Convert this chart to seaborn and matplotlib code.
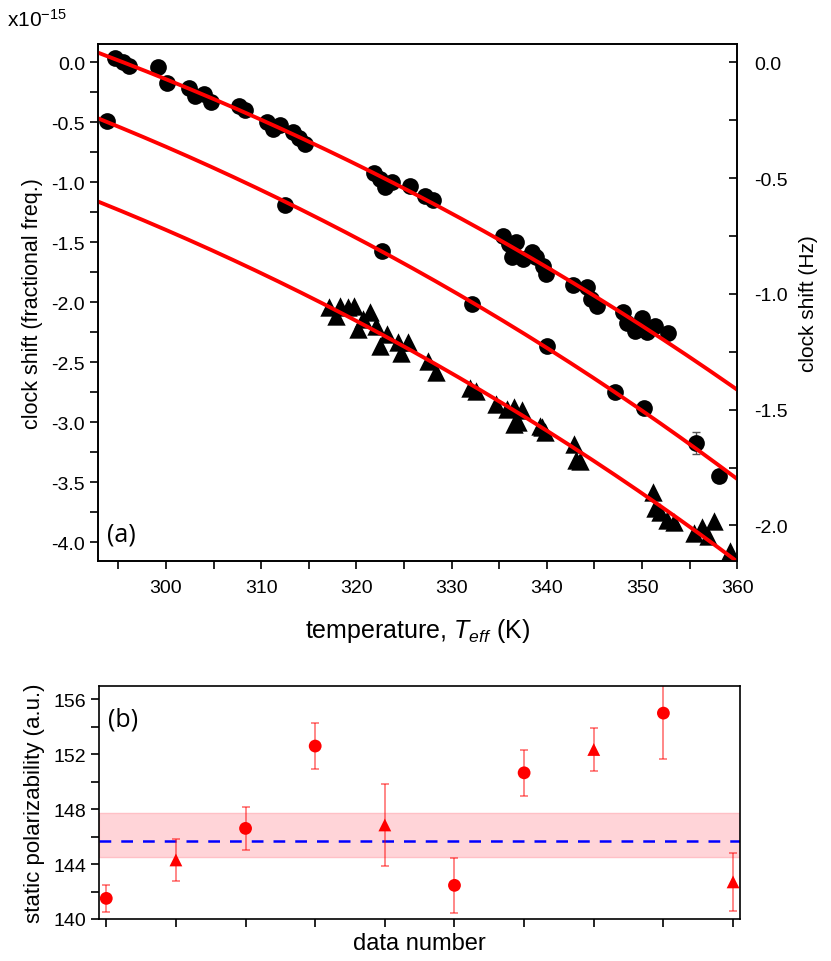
import numpy as np
import pandas as pd
import seaborn as sns
import matplotlib
matplotlib.use("Agg")
from matplotlib import pyplot as plt
from matplotlib.ticker import MultipleLocator, NullFormatter, FormatStrFormatter

# ---- panel (a): clock shift vs effective temperature (units of 1e-15) ----
top_T = [294.7, 295.5, 296.1, 299.2, 300.1, 302.4, 303.1, 304.0, 304.7, 307.7,
         308.3, 310.6, 311.2, 312.0, 313.3, 314.0, 314.6, 321.9, 322.5, 323.0,
         323.7, 325.6, 327.2, 328.0, 335.4, 336.0, 336.3, 336.8, 337.5, 338.4,
         338.9, 339.6, 339.9, 342.7, 344.2, 344.6, 345.3, 348.0, 348.4, 349.3,
         350.0, 350.5, 351.4, 352.7]
top_shift = [0.04, 0.00, -0.03, -0.04, -0.175, -0.21, -0.28, -0.26, -0.33, -0.36,
             -0.40, -0.50, -0.555, -0.52, -0.58, -0.63, -0.68, -0.92, -0.97, -1.04,
             -1.00, -1.03, -1.11, -1.15, -1.445, -1.51, -1.625, -1.50, -1.64, -1.58,
             -1.625, -1.695, -1.76, -1.855, -1.875, -1.97, -2.03, -2.08, -2.17, -2.24,
             -2.13, -2.25, -2.195, -2.256]

mid_T = [293.8, 312.5, 322.65, 332.1, 340.05, 347.2, 350.2, 355.7, 358.1]
mid_shift = [-0.487, -1.19, -1.57, -2.01, -2.36, -2.745, -2.88, -3.17, -3.445]
mid_err = [0.03, 0.03, 0.03, 0.03, 0.03, 0.03, 0.04, 0.09, 0.05]

low_T = [317.15, 317.9, 318.3, 319.1, 319.8, 320.2, 320.7, 321.4, 322.1, 322.5,
         323.2, 324.4, 324.7, 325.4, 327.5, 328.4, 331.9, 332.6, 334.7, 335.8,
         336.6, 336.6, 337.0, 337.35, 339.3, 339.45, 339.8, 342.8, 343.1, 343.5,
         351.1, 351.35, 351.9, 352.6, 353.3, 355.4, 356.3, 356.95, 357.5, 359.2]
low_shift = [-2.04, -2.11, -2.03, -2.04, -2.03, -2.22, -2.14, -2.08, -2.195, -2.36,
             -2.26, -2.33, -2.42, -2.33, -2.49, -2.58, -2.71, -2.74, -2.85, -2.89,
             -2.875, -3.01, -3.00, -2.90, -3.03, -3.04, -3.08, -3.18, -3.31, -3.32,
             -3.58, -3.71, -3.75, -3.81, -3.83, -3.92, -3.875, -3.945, -3.82, -4.07]

nu_clock = 0.5183  # Hz per 1e-15 (Yb clock, 518 THz)

# ---- panel (b): static polarizability per data set ----
data_num = list(range(1, 11))
alpha = [141.5, 144.3, 146.6, 152.6, 146.85, 142.45, 150.65, 152.35, 155.0, 142.7]
alpha_err = [0.96, 1.53, 1.58, 1.67, 2.98, 2.0, 1.68, 1.6, 3.37, 2.1]
set_kind = ["circle", "triangle", "circle", "circle", "triangle",
            "circle", "circle", "triangle", "circle", "triangle"]
alpha_mean = 145.7
band_lo, band_hi = 144.49, 147.73

sns.set_style("ticks")
plt.rcParams["font.family"] = ["Liberation Sans", "DejaVu Sans"]
plt.rcParams["axes.linewidth"] = 1.2
plt.rcParams["text.color"] = "black"
plt.rcParams["axes.labelcolor"] = "black"
plt.rcParams["xtick.color"] = "black"
plt.rcParams["ytick.color"] = "black"
plt.rcParams["axes.edgecolor"] = "black"
plt.rcParams["mathtext.fontset"] = "custom"
plt.rcParams["mathtext.it"] = "Liberation Sans:italic"
plt.rcParams["mathtext.rm"] = "Liberation Sans"

fig = plt.figure(figsize=(8.31, 9.62), dpi=100)
ax = fig.add_axes([0.1183, 0.4158, 0.7690, 0.5374])
bx = fig.add_axes([0.1195, 0.0437, 0.7710, 0.2425])

# fit lines: shift linear in T^4
T_grid = np.linspace(292.9, 360, 200)
for T, y in [(top_T, top_shift), (mid_T, mid_shift), (low_T, low_shift)]:
    t4 = (np.asarray(T) / 300.0) ** 4
    p = np.polyfit(t4, y, 1)
    fit = pd.DataFrame({"T": T_grid, "y": np.polyval(p, (T_grid / 300.0) ** 4)})
    sns.lineplot(data=fit, x="T", y="y", ax=ax, color="#ff0000", lw=2.8, zorder=3)

ax.errorbar(mid_T, mid_shift, yerr=mid_err, fmt="none", ecolor="#555555",
            elinewidth=1, capsize=3, zorder=1)
sns.scatterplot(x=top_T, y=top_shift, ax=ax, color="black", s=145, marker="o",
                linewidth=0, zorder=2)
sns.scatterplot(x=mid_T, y=mid_shift, ax=ax, color="black", s=145, marker="o",
                linewidth=0, zorder=2)
sns.scatterplot(x=low_T, y=low_shift, ax=ax, color="black", s=175, marker="^",
                linewidth=0, zorder=2)

ax.set_xlim(292.9, 360)
ax.set_ylim(-4.155, 0.153)
ax.xaxis.set_major_locator(MultipleLocator(10))
ax.xaxis.set_minor_locator(MultipleLocator(5))
ax.yaxis.set_major_locator(MultipleLocator(0.5))
ax.yaxis.set_minor_locator(MultipleLocator(0.25))
ax.yaxis.set_major_formatter(FormatStrFormatter("%.1f"))
ax.tick_params(which="both", direction="out", width=1.2, length=6, labelsize=14)
ax.tick_params(axis="x", pad=7)
ax.set_xlabel(r"temperature, $T_{eff}$ (K)", fontsize=18, labelpad=14)
ax.set_ylabel("clock shift (fractional freq.)", fontsize=15.5, labelpad=6)
ax.text(0.013, 0.04, "(a)", transform=ax.transAxes, fontsize=18,
        family=["Open Sans", "DejaVu Sans"])
for s in ax.spines.values():
    s.set_visible(True)

rx = ax.twinx()
rx.set_ylim(ax.get_ylim()[0] * nu_clock, ax.get_ylim()[1] * nu_clock)
rx.yaxis.set_major_locator(MultipleLocator(0.5))
rx.yaxis.set_minor_locator(MultipleLocator(0.25))
rx.yaxis.set_major_formatter(FormatStrFormatter("%.1f"))
rx.tick_params(which="both", direction="in", width=1.2, length=6, labelsize=14, pad=12)
rx.set_ylabel("clock shift (Hz)", fontsize=15, labelpad=8)

fig.text(0.008, 0.972, r"x10$^{-15}$", fontsize=15)

# panel (b)
bx.axhspan(band_lo, band_hi, color="#ffd4d8", lw=1, ec="#ffc0c6", zorder=0)
bx.axhline(alpha_mean, color="#0000ff", lw=1.8, dashes=(4.7, 4.0), zorder=1)
bx.errorbar(data_num, alpha, yerr=alpha_err, fmt="none", ecolor="#ff0000",
            alpha=0.55, elinewidth=1.2, capsize=3, capthick=1.2, zorder=2)
bdf = pd.DataFrame({"n": data_num, "a": alpha, "kind": set_kind})
sns.scatterplot(data=bdf, x="n", y="a", style="kind", ax=bx,
                markers={"circle": "o", "triangle": "^"}, color="#ff0000",
                s=85, linewidth=0, legend=False, zorder=3)
bx.set_xlim(0.9, 10.1)
bx.set_ylim(140, 157)
bx.set_xticks(data_num)
bx.xaxis.set_major_formatter(NullFormatter())
bx.yaxis.set_major_locator(MultipleLocator(4))
bx.yaxis.set_minor_locator(MultipleLocator(2))
bx.tick_params(which="both", direction="out", width=1.2, length=6, labelsize=14)
bx.set_xlabel("data number", fontsize=17, labelpad=0)
bx.set_ylabel("static polarizability (a.u.)", fontsize=16, labelpad=6)
bx.text(0.013, 0.83, "(b)", transform=bx.transAxes, fontsize=18,
        family=["Open Sans", "DejaVu Sans"])
for s in bx.spines.values():
    s.set_visible(True)

fig.savefig("out.png", dpi=100)
